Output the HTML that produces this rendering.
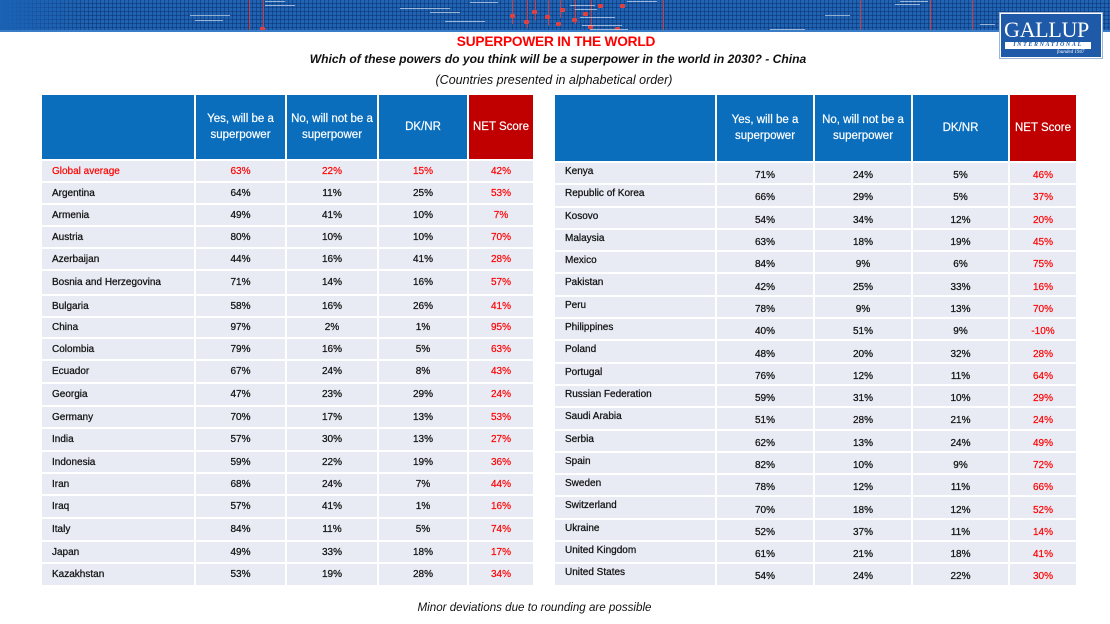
<!DOCTYPE html>
<html>
<head>
<meta charset="utf-8">
<style>
*{margin:0;padding:0;box-sizing:border-box}
html,body{width:1110px;height:624px;background:#fff;overflow:hidden;position:relative;font-family:"Liberation Sans",sans-serif}
.banner{position:absolute;left:0;top:0;width:1110px;height:32px;background-color:#1f63b2;
background-image:
repeating-linear-gradient(90deg,rgba(10,40,100,.45) 0 1px,transparent 1px 4px),
repeating-linear-gradient(0deg,rgba(10,40,100,.45) 0 1px,transparent 1px 4px);}
.banner .plain{position:absolute;left:0;top:0;width:90px;height:32px;background:linear-gradient(90deg,#1b62b4,rgba(31,99,178,0))}
.banner .edge{position:absolute;left:0;bottom:0;width:1110px;height:2px;background:#3a7cc6}
.rl{position:absolute;top:0;width:1px;background:#d23b3b}
.rd{position:absolute;width:5px;height:4px;background:#e04040;border-radius:1px}
.wt{position:absolute;height:1px;background:rgba(255,255,255,.55)}
.logo{position:absolute;left:1000px;top:13px;width:102px;height:45px;background:#1e5aa8;border:1px solid #fff;outline:1px solid #9fb6d8}
.logo .g{position:absolute;left:3px;top:5px;font-family:"Liberation Serif",serif;color:#fff;font-size:22px;line-height:22px;letter-spacing:-0.3px}
.logo .band{position:absolute;left:4px;top:28px;width:86px;height:7px;background:#fff;color:#1e5aa8;font-family:"Liberation Serif",serif;font-style:italic;font-weight:bold;font-size:6px;line-height:7px;letter-spacing:1.6px;text-align:center}
.logo .f{position:absolute;left:56px;top:36px;color:#fff;font-family:"Liberation Serif",serif;font-style:italic;font-size:5px;line-height:6px}
.title{position:absolute;left:0;width:1112px;top:33px;text-align:center;color:#f00;font-weight:bold;font-size:13.7px;line-height:17px;letter-spacing:-0.2px}
.sub{position:absolute;left:0;width:1116px;top:51px;text-align:center;color:#111;font-style:italic;font-weight:bold;font-size:12.1px;line-height:16px}
.sub2{position:absolute;left:0;width:1108px;top:72px;text-align:center;color:#111;font-style:italic;font-size:12.5px;line-height:16px}
.foot{position:absolute;left:0;width:1069px;top:600px;text-align:center;color:#111;font-style:italic;font-size:11.6px;line-height:16px}
.t{position:absolute;display:grid;gap:2px;background:#fff}
.t div{display:flex;align-items:center;justify-content:center;font-size:10px;color:#111;-webkit-text-stroke:0.25px #111;white-space:nowrap}
.t div.h{background:#0a6ebd;color:#fff;-webkit-text-stroke:0.2px #fff;font-size:11.5px;line-height:16px;text-align:center;white-space:normal}
.t div.hr{background:#c00000;color:#fff;-webkit-text-stroke:0.2px #fff;font-size:11.5px}
.t div.c{background:#e8ebf4}
.t div.n{justify-content:flex-start;padding-left:10px}
.t div.r{color:#f00;-webkit-text-stroke:0.2px #f00}
.tl{left:42px;top:95px;grid-template-columns:152px 89px 90px 88px 64px;
grid-template-rows:64px 20px 20px 20px 20px 20px 23px 20px 19px 20px 21px 21px 20px 21px 20px 20px 21px 21px 20px 21px}
.tr{left:555px;top:95px;grid-template-columns:160px 96px 96px 95px 66px;
grid-template-rows:66px repeat(19,20.3px)}
.tr div.n{align-items:flex-start;padding-top:3px}
.tr div.v{padding-top:5px}
</style>
</head>
<body>
<div class="banner">
  <div class="plain"></div>
  <div class="rl" style="left:249px;height:30px"></div>
  <div class="rl" style="left:263px;height:30px"></div>
  <div class="rl" style="left:512px;height:24px"></div>
  <div class="rl" style="left:527px;height:28px"></div>
  <div class="rl" style="left:535px;height:20px"></div>
  <div class="rl" style="left:548px;height:26px"></div>
  <div class="rl" style="left:560px;height:18px"></div>
  <div class="rl" style="left:575px;height:24px"></div>
  <div class="rl" style="left:591px;height:30px"></div>
  <div class="rl" style="left:663px;height:32px"></div>
  <div class="rl" style="left:860px;height:30px"></div>
  <div class="rl" style="left:930px;height:32px"></div>
  <div class="rl" style="left:972px;height:30px"></div>
  <div class="rd" style="left:510px;top:14px"></div>
  <div class="rd" style="left:524px;top:20px"></div>
  <div class="rd" style="left:532px;top:10px"></div>
  <div class="rd" style="left:545px;top:15px"></div>
  <div class="rd" style="left:556px;top:22px"></div>
  <div class="rd" style="left:560px;top:8px"></div>
  <div class="rd" style="left:572px;top:18px"></div>
  <div class="rd" style="left:583px;top:12px"></div>
  <div class="rd" style="left:588px;top:25px"></div>
  <div class="rd" style="left:598px;top:4px"></div>
  <div class="rd" style="left:620px;top:4px"></div>
  <div class="rd" style="left:615px;top:27px"></div>
  <div class="rd" style="left:260px;top:27px"></div>
  <div class="wt" style="left:265px;top:1px;width:20px"></div>
  <div class="wt" style="left:265px;top:5px;width:30px"></div>
  <div class="wt" style="left:190px;top:15px;width:40px"></div>
  <div class="wt" style="left:195px;top:20px;width:28px"></div>
  <div class="wt" style="left:400px;top:8px;width:50px"></div>
  <div class="wt" style="left:430px;top:12px;width:30px"></div>
  <div class="wt" style="left:445px;top:21px;width:40px"></div>
  <div class="wt" style="left:470px;top:2px;width:28px"></div>
  <div class="wt" style="left:570px;top:5px;width:25px"></div>
  <div class="wt" style="left:575px;top:9px;width:22px"></div>
  <div class="wt" style="left:580px;top:17px;width:35px"></div>
  <div class="wt" style="left:582px;top:25px;width:40px"></div>
  <div class="wt" style="left:590px;top:29px;width:38px"></div>
  <div class="wt" style="left:627px;top:1px;width:30px"></div>
  <div class="wt" style="left:770px;top:29px;width:35px"></div>
  <div class="wt" style="left:825px;top:15px;width:25px"></div>
  <div class="wt" style="left:895px;top:4px;width:25px"></div>
  <div class="wt" style="left:980px;top:24px;width:15px"></div>
  <div class="wt" style="left:900px;top:1px;width:28px"></div>
  <div class="edge"></div>
</div>
<div class="logo">
  <div class="g">GALLUP</div>
  <div class="band">INTERNATIONAL</div>
  <div class="f">founded 1947</div>
</div>

<div class="title">SUPERPOWER IN THE WORLD</div>
<div class="sub">Which of these powers do you think will be a superpower in the world in 2030? - China</div>
<div class="sub2">(Countries presented in alphabetical order)</div>

<div class="t tl">
  <div class="h"></div><div class="h">Yes, will be a<br>superpower</div><div class="h">No, will not be a<br>superpower</div><div class="h">DK/NR</div><div class="hr">NET Score</div>
  <div class="c n r">Global average</div><div class="c r">63%</div><div class="c r">22%</div><div class="c r">15%</div><div class="c r">42%</div>
  <div class="c n">Argentina</div><div class="c">64%</div><div class="c">11%</div><div class="c">25%</div><div class="c r">53%</div>
  <div class="c n">Armenia</div><div class="c">49%</div><div class="c">41%</div><div class="c">10%</div><div class="c r">7%</div>
  <div class="c n">Austria</div><div class="c">80%</div><div class="c">10%</div><div class="c">10%</div><div class="c r">70%</div>
  <div class="c n">Azerbaijan</div><div class="c">44%</div><div class="c">16%</div><div class="c">41%</div><div class="c r">28%</div>
  <div class="c n">Bosnia and Herzegovina</div><div class="c">71%</div><div class="c">14%</div><div class="c">16%</div><div class="c r">57%</div>
  <div class="c n">Bulgaria</div><div class="c">58%</div><div class="c">16%</div><div class="c">26%</div><div class="c r">41%</div>
  <div class="c n">China</div><div class="c">97%</div><div class="c">2%</div><div class="c">1%</div><div class="c r">95%</div>
  <div class="c n">Colombia</div><div class="c">79%</div><div class="c">16%</div><div class="c">5%</div><div class="c r">63%</div>
  <div class="c n">Ecuador</div><div class="c">67%</div><div class="c">24%</div><div class="c">8%</div><div class="c r">43%</div>
  <div class="c n">Georgia</div><div class="c">47%</div><div class="c">23%</div><div class="c">29%</div><div class="c r">24%</div>
  <div class="c n">Germany</div><div class="c">70%</div><div class="c">17%</div><div class="c">13%</div><div class="c r">53%</div>
  <div class="c n">India</div><div class="c">57%</div><div class="c">30%</div><div class="c">13%</div><div class="c r">27%</div>
  <div class="c n">Indonesia</div><div class="c">59%</div><div class="c">22%</div><div class="c">19%</div><div class="c r">36%</div>
  <div class="c n">Iran</div><div class="c">68%</div><div class="c">24%</div><div class="c">7%</div><div class="c r">44%</div>
  <div class="c n">Iraq</div><div class="c">57%</div><div class="c">41%</div><div class="c">1%</div><div class="c r">16%</div>
  <div class="c n">Italy</div><div class="c">84%</div><div class="c">11%</div><div class="c">5%</div><div class="c r">74%</div>
  <div class="c n">Japan</div><div class="c">49%</div><div class="c">33%</div><div class="c">18%</div><div class="c r">17%</div>
  <div class="c n">Kazakhstan</div><div class="c">53%</div><div class="c">19%</div><div class="c">28%</div><div class="c r">34%</div>
</div>

<div class="t tr">
  <div class="h"></div><div class="h">Yes, will be a<br>superpower</div><div class="h">No, will not be a<br>superpower</div><div class="h">DK/NR</div><div class="hr">NET Score</div>
  <div class="c n">Kenya</div><div class="c v">71%</div><div class="c v">24%</div><div class="c v">5%</div><div class="c v r">46%</div>
  <div class="c n">Republic of Korea</div><div class="c v">66%</div><div class="c v">29%</div><div class="c v">5%</div><div class="c v r">37%</div>
  <div class="c n">Kosovo</div><div class="c v">54%</div><div class="c v">34%</div><div class="c v">12%</div><div class="c v r">20%</div>
  <div class="c n">Malaysia</div><div class="c v">63%</div><div class="c v">18%</div><div class="c v">19%</div><div class="c v r">45%</div>
  <div class="c n">Mexico</div><div class="c v">84%</div><div class="c v">9%</div><div class="c v">6%</div><div class="c v r">75%</div>
  <div class="c n">Pakistan</div><div class="c v">42%</div><div class="c v">25%</div><div class="c v">33%</div><div class="c v r">16%</div>
  <div class="c n">Peru</div><div class="c v">78%</div><div class="c v">9%</div><div class="c v">13%</div><div class="c v r">70%</div>
  <div class="c n">Philippines</div><div class="c v">40%</div><div class="c v">51%</div><div class="c v">9%</div><div class="c v r">-10%</div>
  <div class="c n">Poland</div><div class="c v">48%</div><div class="c v">20%</div><div class="c v">32%</div><div class="c v r">28%</div>
  <div class="c n">Portugal</div><div class="c v">76%</div><div class="c v">12%</div><div class="c v">11%</div><div class="c v r">64%</div>
  <div class="c n">Russian Federation</div><div class="c v">59%</div><div class="c v">31%</div><div class="c v">10%</div><div class="c v r">29%</div>
  <div class="c n">Saudi Arabia</div><div class="c v">51%</div><div class="c v">28%</div><div class="c v">21%</div><div class="c v r">24%</div>
  <div class="c n">Serbia</div><div class="c v">62%</div><div class="c v">13%</div><div class="c v">24%</div><div class="c v r">49%</div>
  <div class="c n">Spain</div><div class="c v">82%</div><div class="c v">10%</div><div class="c v">9%</div><div class="c v r">72%</div>
  <div class="c n">Sweden</div><div class="c v">78%</div><div class="c v">12%</div><div class="c v">11%</div><div class="c v r">66%</div>
  <div class="c n">Switzerland</div><div class="c v">70%</div><div class="c v">18%</div><div class="c v">12%</div><div class="c v r">52%</div>
  <div class="c n">Ukraine</div><div class="c v">52%</div><div class="c v">37%</div><div class="c v">11%</div><div class="c v r">14%</div>
  <div class="c n">United Kingdom</div><div class="c v">61%</div><div class="c v">21%</div><div class="c v">18%</div><div class="c v r">41%</div>
  <div class="c n">United States</div><div class="c v">54%</div><div class="c v">24%</div><div class="c v">22%</div><div class="c v r">30%</div>
</div>

<div class="foot">Minor deviations due to rounding are possible</div>
</body>
</html>
